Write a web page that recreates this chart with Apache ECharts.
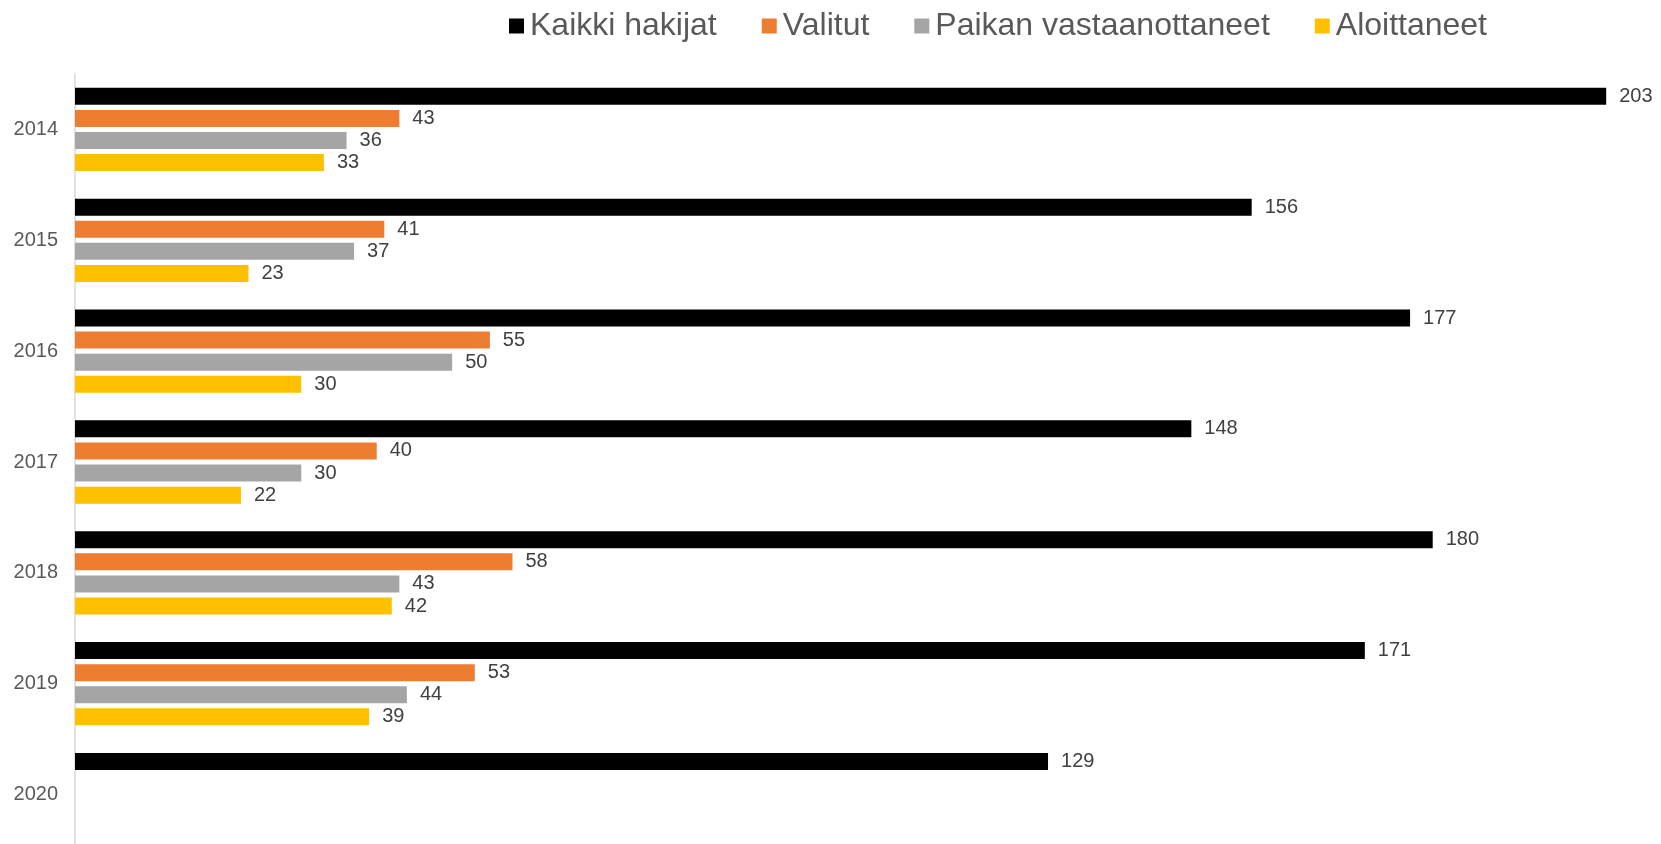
<!DOCTYPE html>
<html>
<head>
<meta charset="utf-8">
<title>Hakijat</title>
<script src="https://cdn.jsdelivr.net/npm/echarts@6/dist/echarts.min.js"></script>
<style>
  html, body { margin: 0; padding: 0; background: #fff; }
  #chart { width: 1661px; height: 844px; }
</style>
</head>
<body>
<div id="chart"></div>
<script>
// years, top to bottom
const years = ["2014", "2015", "2016", "2017", "2018", "2019", "2020"];

const kaikkiHakijat = [203, 156, 177, 148, 180, 171, 129];
const valitut = [43, 41, 55, 40, 58, 53, null];
const paikanVastaanottaneet = [36, 37, 50, 30, 43, 44, null];
const aloittaneet = [33, 23, 30, 22, 42, 39, null];

const seriesNames = ["Kaikki hakijat", "Valitut", "Paikan vastaanottaneet", "Aloittaneet"];
const seriesColors = ["#000000", "#ED7D31", "#A5A5A5", "#FFC000"];
const seriesData = [kaikkiHakijat, valitut, paikanVastaanottaneet, aloittaneet];

const font = "'Liberation Sans', Arial, sans-serif";

const chart = echarts.init(document.getElementById("chart"));

const option = {
  animation: false,
  textStyle: { fontFamily: font },
  legend: {
    top: 5,
    left: 504,
    icon: "rect",
    itemWidth: 15,
    itemHeight: 15,
    itemGap: 45,
    textStyle: { fontSize: 32, color: "#595959", fontFamily: font, padding: [0, 0, 0, 1] },
    data: seriesNames
  },
  // the plot runs a little past the bottom edge, as in the original
  grid: { left: 75, top: 74, width: 1584, height: 776, outerBoundsMode: "none" },
  xAxis: {
    type: "value",
    min: 0,
    max: 210,
    show: false
  },
  yAxis: {
    type: "category",
    data: years,
    inverse: true,
    axisLine: { show: true, lineStyle: { color: "#D9D9D9", width: 1.5 } },
    axisTick: { show: false },
    axisLabel: { fontSize: 20, color: "#595959", margin: 17, fontFamily: font }
  },
  series: seriesNames.map((name, i) => ({
    name: name,
    type: "bar",
    data: seriesData[i],
    barWidth: 17,
    barGap: "30%",
    itemStyle: { color: seriesColors[i] },
    label: {
      show: true,
      position: "right",
      distance: 13,
      fontSize: 20,
      color: "#404040",
      fontFamily: font
    }
  }))
};

chart.setOption(option);
</script>
</body>
</html>
